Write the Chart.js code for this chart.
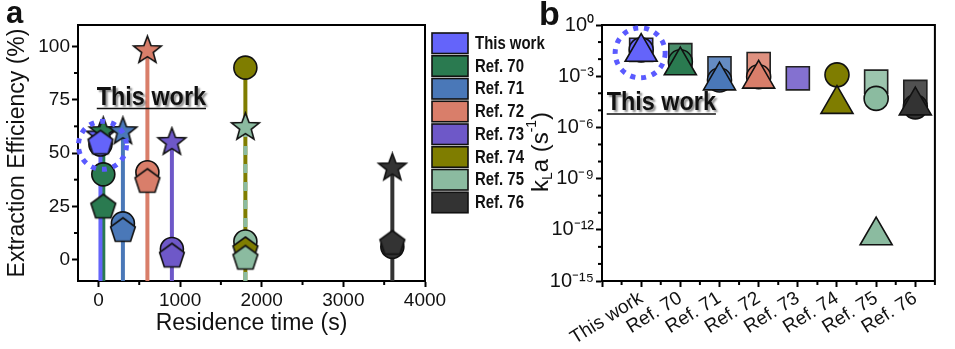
<!DOCTYPE html>
<html><head><meta charset="utf-8">
<script src="https://cdn.jsdelivr.net/npm/chart.js@4.4.0/dist/chart.umd.min.js"></script>
<style>
html,body{margin:0;padding:0;background:#fff;overflow:hidden;width:955px;height:349px}
#wa{position:absolute;left:0;top:0;width:560px;height:349px}
#wb{position:absolute;left:520px;top:0;width:435px;height:349px}
</style></head><body>
<div id="wa"><canvas id="ca"></canvas></div>
<div id="wb"><canvas id="cb"></canvas></div>
<script>
// ---------- data ----------
const seriesNames = ['This work','Ref. 70','Ref. 71','Ref. 72','Ref. 73','Ref. 74','Ref. 75','Ref. 76'];
const seriesColors = ['#6464fa','#2a7a50','#4a78b8','#d97e6a','#6e58c8','#7f7d00','#8bbba0','#333333'];
// panel a: extraction efficiency (%) vs residence time (s)
const residenceTime = [25, 60, 300, 600, 900, 1800, 1800, 3600];
const effStar     = [58, 60, 60, 98, 55, null, 62, 43];
const effCircle   = [54, 40, 17, 41, 5, 90, 8.5, 6];
const effPentagon = [55, 25, 14, 37, 2, 5, 1, 8];
// panel b: kLa (s^-1)
const klaSquare   = [0.035, 0.017, 0.0029, 0.0052, 7.5e-4, null, 4.8e-4, 1.2e-4];
const klaCircle   = [0.035, 0.007, 6e-4, 9.3e-4, null, 1.2e-3, 5e-5, 1.6e-5];
const klaTriangle = [0.026, 0.0042, 5.5e-4, 7e-4, null, 2.3e-5, 4.6e-13, 1.9e-5];
// ticks
const effTicks = [0, 25, 50, 75, 100];
const effMinorTicks = [12.5, 37.5, 62.5, 87.5];
const timeTicks = [0, 1000, 2000, 3000, 4000];
const timeMinorTicks = [500, 1500, 2500, 3500];
const klaExponents = [0, -3, -6, -9, -12, -15];
const klaMinorExponents = [-1,-2,-4,-5,-7,-8,-10,-11,-13,-14];

// ---------- helpers ----------
const FONT = "'Liberation Sans', Arial, sans-serif";
Chart.defaults.font.family = FONT;
Chart.defaults.color = '#111';
const EFF_MIN = -10, EFF_MAX = 110;

function shapeCanvas(kind, color, R) {
  const pad = 2, s = Math.ceil(2 * R + 2 * pad);
  const c = document.createElement('canvas'); c.width = s; c.height = s;
  const g = c.getContext('2d'); const cx = s / 2, cy = s / 2;
  g.beginPath();
  if (kind === 'star') {
    for (let k = 0; k < 10; k++) {
      const r = k % 2 ? R * 0.42 : R; const a = -Math.PI / 2 + k * Math.PI / 5;
      const px = cx + r * Math.cos(a), py = cy + r * Math.sin(a);
      k ? g.lineTo(px, py) : g.moveTo(px, py);
    }
  } else {
    for (let k = 0; k < 5; k++) {
      const a = -Math.PI / 2 + k * 2 * Math.PI / 5;
      const px = cx + R * Math.cos(a), py = cy + 1 + R * Math.sin(a);
      k ? g.lineTo(px, py) : g.moveTo(px, py);
    }
  }
  g.closePath(); g.fillStyle = color; g.fill();
  g.lineWidth = 1.6; g.strokeStyle = '#111'; g.lineJoin = 'miter'; g.stroke();
  return c;
}
function sup(n) {
  const m = {'0':'⁰','1':'¹','2':'²','3':'³','4':'⁴','5':'⁵','6':'⁶','7':'⁷','8':'⁸','9':'⁹','-':'⁻'};
  return String(n).split('').map(ch => m[ch]).join('');
}
function minorTicks(chart, scaleId, values, len) {
  const s = chart.scales[scaleId], ctx = chart.ctx, ca = chart.chartArea;
  ctx.save(); ctx.strokeStyle = '#000'; ctx.lineWidth = 2;
  values.forEach(v => {
    const p = s.getPixelForValue(v); ctx.beginPath();
    if (s.isHorizontal()) { ctx.moveTo(p, ca.bottom); ctx.lineTo(p, ca.bottom + len); }
    else { ctx.moveTo(ca.left, p); ctx.lineTo(ca.left - len, p); }
    ctx.stroke();
  });
  ctx.restore();
}
function frame(chart) {
  const ctx = chart.ctx, ca = chart.chartArea;
  ctx.save(); ctx.strokeStyle = '#000'; ctx.lineWidth = 2;
  ctx.beginPath(); ctx.moveTo(ca.left, ca.top); ctx.lineTo(ca.right, ca.top); ctx.lineTo(ca.right, ca.bottom); ctx.stroke();
  ctx.restore();
}
function thisWorkLabel(ctx, x, yMid, size, scaleX) {
  ctx.save();
  ctx.font = 'bold ' + size + 'px ' + FONT;
  ctx.textBaseline = 'middle'; ctx.textAlign = 'left';
  const w = ctx.measureText('This work').width * scaleX;
  ctx.shadowColor = 'rgba(0,0,0,0.45)'; ctx.shadowOffsetX = 2; ctx.shadowOffsetY = 2; ctx.shadowBlur = 2;
  ctx.fillStyle = '#111';
  ctx.translate(x, yMid); ctx.scale(scaleX, 1); ctx.fillText('This work', 0, 0);
  ctx.setTransform(1,0,0,1,0,0);
  ctx.shadowColor = 'rgba(0,0,0,0)';
  ctx.strokeStyle = '#111'; ctx.lineWidth = 1.5;
  ctx.beginPath(); ctx.moveTo(x, yMid + size * 0.42); ctx.lineTo(x + w, yMid + size * 0.42); ctx.stroke();
  ctx.restore();
}
function dottedCircle(ctx, x, y, r) {
  ctx.save(); ctx.strokeStyle = '#5a5aff'; ctx.lineWidth = 5; ctx.setLineDash([5, 6]);
  ctx.beginPath(); ctx.arc(x, y, r, 0, Math.PI * 2); ctx.stroke(); ctx.restore();
}
const commonGrid = {display: true, drawOnChartArea: false, drawTicks: true, tickLength: 6, tickWidth: 2, tickColor: '#000'};
const commonBorder = {display: true, width: 2, color: '#000'};

// ---------- panel a ----------
const dsA = [];
seriesNames.forEach((name, i) => {
  const vals = [effStar[i], effCircle[i], effPentagon[i]].filter(v => v != null);
  const top = Math.max(...vals);
  dsA.push({type: 'line', label: name, data: [{x: residenceTime[i], y: EFF_MIN}, {x: residenceTime[i], y: top}],
    borderColor: seriesColors[i], borderWidth: 4, borderDash: i === 6 ? [9, 9] : [], pointRadius: 0,
    showLine: true, order: i === 6 ? 90 : 100, clip: false, borderCapStyle: 'butt'});
  if (effCircle[i] != null) dsA.push({type: 'scatter', label: name, data: [{x: residenceTime[i], y: effCircle[i]}],
    pointStyle: 'circle', pointRadius: 11.5, backgroundColor: seriesColors[i], borderColor: '#111', borderWidth: 1.6, order: 30 - i * 0.1, clip: false});
  if (effStar[i] != null) dsA.push({type: 'scatter', label: name, data: [{x: residenceTime[i], y: effStar[i]}],
    pointStyle: shapeCanvas('star', seriesColors[i], 14.5), order: 20 - i * 0.1, clip: false});
  if (effPentagon[i] != null) dsA.push({type: 'scatter', label: name, data: [{x: residenceTime[i], y: effPentagon[i]}],
    pointStyle: shapeCanvas('pent', seriesColors[i], 13), order: 10 - i * 0.1, clip: false});
});

const plugA = {
  id: 'plugA',
  beforeDatasetsDraw(chart) {
    frame(chart);
    minorTicks(chart, 'x', timeMinorTicks, 4);
    minorTicks(chart, 'y', effMinorTicks, 4);
  },
  afterDatasetsDraw(chart) {
    const ctx = chart.ctx, sx = chart.scales.x, sy = chart.scales.y;
    dottedCircle(ctx, sx.getPixelForValue(residenceTime[0]) + 2, sy.getPixelForValue(effPentagon[0]) + 3, 24);
    thisWorkLabel(ctx, sx.getPixelForValue(-20), sy.getPixelForValue(76), 26, 0.9);
  },
  afterDraw(chart) {
    const ctx = chart.ctx;
    ctx.save();
    ctx.font = 'bold 31px ' + FONT; ctx.fillStyle = '#111'; ctx.textBaseline = 'alphabetic';
    ctx.fillText('a', 6, 23);
    const x0 = 432, y0 = 33, step = 22.75;
    seriesNames.forEach((name, i) => {
      const y = y0 + i * step;
      ctx.fillStyle = seriesColors[i]; ctx.fillRect(x0, y, 36, 20.5);
      ctx.strokeStyle = '#111'; ctx.lineWidth = 1.6; ctx.strokeRect(x0, y, 36, 20.5);
      ctx.save(); ctx.fillStyle = '#111'; ctx.font = 'bold 18px ' + FONT; ctx.textBaseline = 'middle';
      ctx.translate(475, y + 11); ctx.scale(0.83, 1); ctx.fillText(name, 0, 0); ctx.restore();
    });
    ctx.restore();
  }
};

new Chart(document.getElementById('ca'), {
  type: 'scatter',
  data: {datasets: dsA},
  options: {
    responsive: true, maintainAspectRatio: false, animation: false, events: [],
    layout: {padding: {left: 0, top: 25, right: 135, bottom: 0}},
    plugins: {legend: {display: false}, tooltip: {enabled: false}},
    scales: {
      x: {type: 'linear', min: -250, max: 4000,
        afterBuildTicks: s => { s.ticks = timeTicks.map(v => ({value: v})); },
        afterFit: s => { s.height = 68; s.paddingLeft = 0; s.paddingRight = 0; },
        grid: commonGrid, border: commonBorder,
        ticks: {font: {size: 19}, color: '#111', padding: 2, maxRotation: 0, autoSkip: false, callback: v => String(v)},
        title: {display: true, text: 'Residence time (s)', font: {size: 23}, color: '#111', padding: {top: 0, bottom: 12}}},
      y: {type: 'linear', min: EFF_MIN, max: EFF_MAX,
        afterBuildTicks: s => { s.ticks = effTicks.map(v => ({value: v})); },
        afterFit: s => { s.width = 78; s.paddingTop = 0; s.paddingBottom = 0; },
        grid: commonGrid, border: commonBorder,
        ticks: {font: {size: 19}, color: '#111', padding: 2, autoSkip: false, callback: v => String(v)},
        title: {display: true, text: 'Extraction Efficiency (%)', font: {size: 23}, color: '#111', padding: {top: 4, bottom: 0}}}
    }
  },
  plugins: [plugA]
});

// ---------- panel b ----------
const dsB = [];
function lighten(hex, a) {
  const n = parseInt(hex.slice(1), 16); const r = n >> 16, g = (n >> 8) & 255, b = n & 255;
  return 'rgba(' + r + ',' + g + ',' + b + ',' + a + ')';
}
seriesNames.forEach((name, i) => {
  if (klaSquare[i] != null) dsB.push({type: 'scatter', label: name, data: [{x: i, y: klaSquare[i]}], pointStyle: 'rect',
    pointRadius: 16.3, backgroundColor: lighten(seriesColors[i], 0.85), borderColor: '#222', borderWidth: 1.6, order: 30 - i * 0.1, clip: false});
  if (klaCircle[i] != null) dsB.push({type: 'scatter', label: name, data: [{x: i, y: klaCircle[i]}], pointStyle: 'circle',
    pointRadius: 12, backgroundColor: seriesColors[i], borderColor: '#111', borderWidth: 1.6, order: 20 - i * 0.1, clip: false});
  if (klaTriangle[i] != null) dsB.push({type: 'scatter', label: name, data: [{x: i, y: klaTriangle[i]}], pointStyle: 'triangle',
    pointRadius: 18.5, backgroundColor: seriesColors[i], borderColor: '#111', borderWidth: 1.6, order: 10 - i * 0.1, clip: false});
});

const plugB = {
  id: 'plugB',
  beforeDatasetsDraw(chart) {
    frame(chart);
    minorTicks(chart, 'y', klaMinorExponents.map(e => Math.pow(10, e)), 4);
    const xm = []; for (let k = -0.5; k <= seriesNames.length - 0.5; k += 1) xm.push(k);
    minorTicks(chart, 'x', xm, 4);
  },
  afterDatasetsDraw(chart) {
    const ctx = chart.ctx, sx = chart.scales.x, sy = chart.scales.y;
    dottedCircle(ctx, sx.getPixelForValue(0) - 1, sy.getPixelForValue(klaSquare[0]) + 3, 25);
    thisWorkLabel(ctx, sx.getPixelForValue(-0.88), 103, 26, 0.9);
  },
  afterDraw(chart) {
    const ctx = chart.ctx;
    ctx.save();
    ctx.font = 'bold 34px ' + FONT; ctx.fillStyle = '#111'; ctx.textBaseline = 'alphabetic';
    ctx.fillText('b', 19, 25);
    const parts = [['k', 24, 0], ['L', 14, 7], ['a (s', 24, 0], ['-1', 14, -9], [')', 24, 0]];
    let total = 0;
    parts.forEach(p => { ctx.font = p[1] + 'px ' + FONT; total += ctx.measureText(p[0]).width; });
    ctx.translate(21, 152); ctx.rotate(-Math.PI / 2);
    ctx.textBaseline = 'middle';
    let x = -total / 2;
    parts.forEach(p => { ctx.font = p[1] + 'px ' + FONT; ctx.fillText(p[0], x, p[2]); x += ctx.measureText(p[0]).width; });
    ctx.restore();
  }
};

new Chart(document.getElementById('cb'), {
  type: 'scatter',
  data: {datasets: dsB},
  options: {
    responsive: true, maintainAspectRatio: false, animation: false, events: [],
    layout: {padding: {left: 0, top: 25, right: 8, bottom: 0}},
    plugins: {legend: {display: false}, tooltip: {enabled: false}},
    scales: {
      x: {type: 'linear', min: -1, max: seriesNames.length - 0.5,
        afterBuildTicks: s => { s.ticks = [-1].concat(seriesNames.map((n, i) => i)).map(v => ({value: v})); },
        afterFit: s => { s.height = 68; s.paddingLeft = 0; s.paddingRight = 0; },
        grid: commonGrid, border: commonBorder,
        ticks: {font: {size: 19}, color: '#111', padding: 0, minRotation: 32, maxRotation: 32, autoSkip: false,
          callback: v => (v >= 0 && seriesNames[v] !== undefined) ? seriesNames[v] : ''}},
      y: {type: 'logarithmic', min: 1e-15, max: 1,
        afterBuildTicks: s => { s.ticks = klaExponents.map(e => ({value: Math.pow(10, e)})); },
        afterFit: s => { s.width = 82; s.paddingTop = 0; s.paddingBottom = 0; },
        grid: commonGrid, border: commonBorder,
        ticks: {font: {size: 20}, color: '#111', padding: 2, autoSkip: false,
          callback: v => '10' + sup(Math.round(Math.log10(v)))}}
    }
  },
  plugins: [plugB]
});
</script>
</body></html>
